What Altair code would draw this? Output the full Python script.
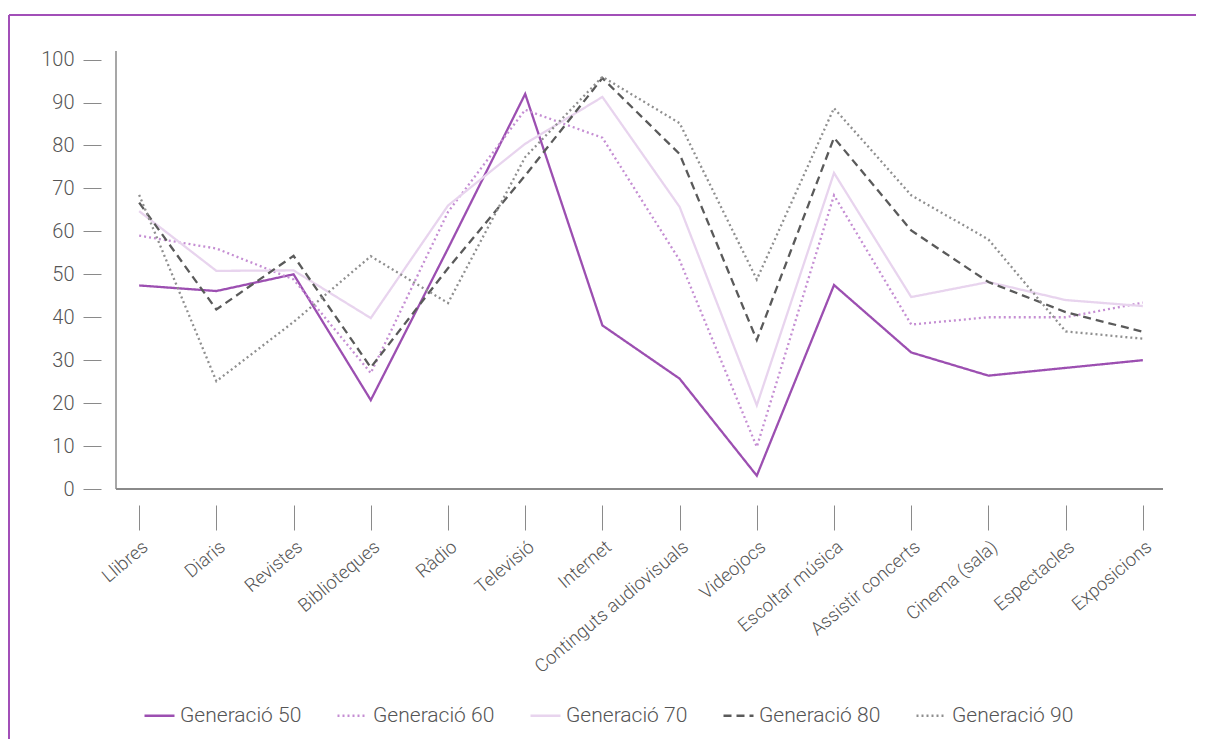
import altair as alt
import pandas as pd

cats = ["Llibres", "Diaris", "Revistes", "Biblioteques", "Ràdio", "Televisió", "Internet",
        "Continguts audiovisuals", "Videojocs", "Escoltar música", "Assistir concerts",
        "Cinema (sala)", "Espectacles", "Exposicions"]

gens = ["Generació 50", "Generació 60", "Generació 70", "Generació 80", "Generació 90"]

g50 = [47.4, 46.1, 50.0, 20.7, 56.0, 92.0, 38.1, 25.7, 3.1, 47.5, 31.8, 26.4, 28.2, 30.0]
g60 = [59.0, 56.0, 48.8, 27.0, 64.5, 88.3, 81.8, 53.3, 9.8, 68.4, 38.3, 40.0, 40.0, 43.4]
g70 = [64.7, 50.8, 50.9, 39.8, 66.0, 80.4, 91.3, 65.7, 19.5, 73.6, 44.7, 48.2, 44.0, 42.6]
g80 = [66.7, 41.8, 54.3, 28.3, 51.4, 73.0, 95.7, 78.0, 34.7, 81.8, 60.2, 48.2, 41.2, 36.6]
g90 = [68.5, 25.1, 38.9, 54.2, 43.3, 77.3, 96.0, 85.2, 48.8, 88.7, 68.4, 58.1, 36.7, 35.0]

colors = ["#9c4fb1", "#c58ed3", "#e8d4ee", "#5a5a5a", "#8f8f8f"]
dashes = [[1, 0], [2, 3], [1, 0], [8, 5], [2, 3]]

rows = []
for g, vals in zip(gens, [g50, g60, g70, g80, g90]):
    for c, v in zip(cats, vals):
        rows.append({"cat": c, "v": v, "gen": g})
df = pd.DataFrame(rows)

FONT = "Roboto"
TXT = "#555555"
AX = "#8a8a8a"

W, H = 1050, 438

lines = alt.Chart(df).mark_line(strokeWidth=2.3).encode(
    x=alt.X("cat:N", sort=cats,
            scale=alt.Scale(type="point", padding=0.3),
            axis=alt.Axis(title=None, domain=False, grid=False, offset=16, tickSize=25,
                          tickColor=AX, tickWidth=1, labelAngle=-40, labelFontSize=18.5,
                          labelColor=TXT, labelFont=FONT, labelFontWeight=300,
                          labelPadding=7, labelLimit=400)),
    y=alt.Y("v:Q", scale=alt.Scale(domain=[0, 102], nice=False),
            axis=alt.Axis(title=None, domain=False, grid=False, values=list(range(0, 101, 10)),
                          offset=15, tickSize=18, tickColor=AX, tickWidth=1,
                          labelFontSize=20, labelColor=TXT, labelFont=FONT,
                          labelFontWeight=300, labelPadding=9)),
    color=alt.Color("gen:N", scale=alt.Scale(domain=gens, range=colors),
                    legend=alt.Legend(title=None)),
    strokeDash=alt.StrokeDash("gen:N", scale=alt.Scale(domain=gens, range=dashes),
                              legend=alt.Legend(title=None)),
)

one = pd.DataFrame({"a": [0]})
yline = alt.Chart(one).mark_rule(color=AX, strokeWidth=1.5).encode(
    x=alt.value(0), y=alt.value(0), y2=alt.value(H))
xline = alt.Chart(one).mark_rule(color=AX, strokeWidth=2).encode(
    x=alt.value(0), x2=alt.value(W - 3), y=alt.value(H))
frame_top = alt.Chart(one).mark_rule(color="#a24fb8", strokeWidth=2).encode(
    x=alt.value(-107), x2=alt.value(1080), y=alt.value(-36))
frame_left = alt.Chart(one).mark_rule(color="#a24fb8", strokeWidth=2).encode(
    x=alt.value(-107), y=alt.value(-36), y2=alt.value(688))

chart = alt.layer(frame_top, frame_left, yline, xline, lines).properties(
    width=W, height=H,
    padding={"left": 0, "top": 6, "right": 0, "bottom": 0},
).configure_view(stroke=None).configure_legend(
    orient="none", legendX=27, legendY=648, direction="horizontal", columns=5,
    symbolType="stroke", symbolSize=900, symbolStrokeWidth=2.5,
    labelFontSize=21, labelColor=TXT, labelFont=FONT, labelFontWeight=300,
    labelOffset=4, columnPadding=30,
)

chart.save("out.html", embed_options={"renderer": "svg", "actions": False})
